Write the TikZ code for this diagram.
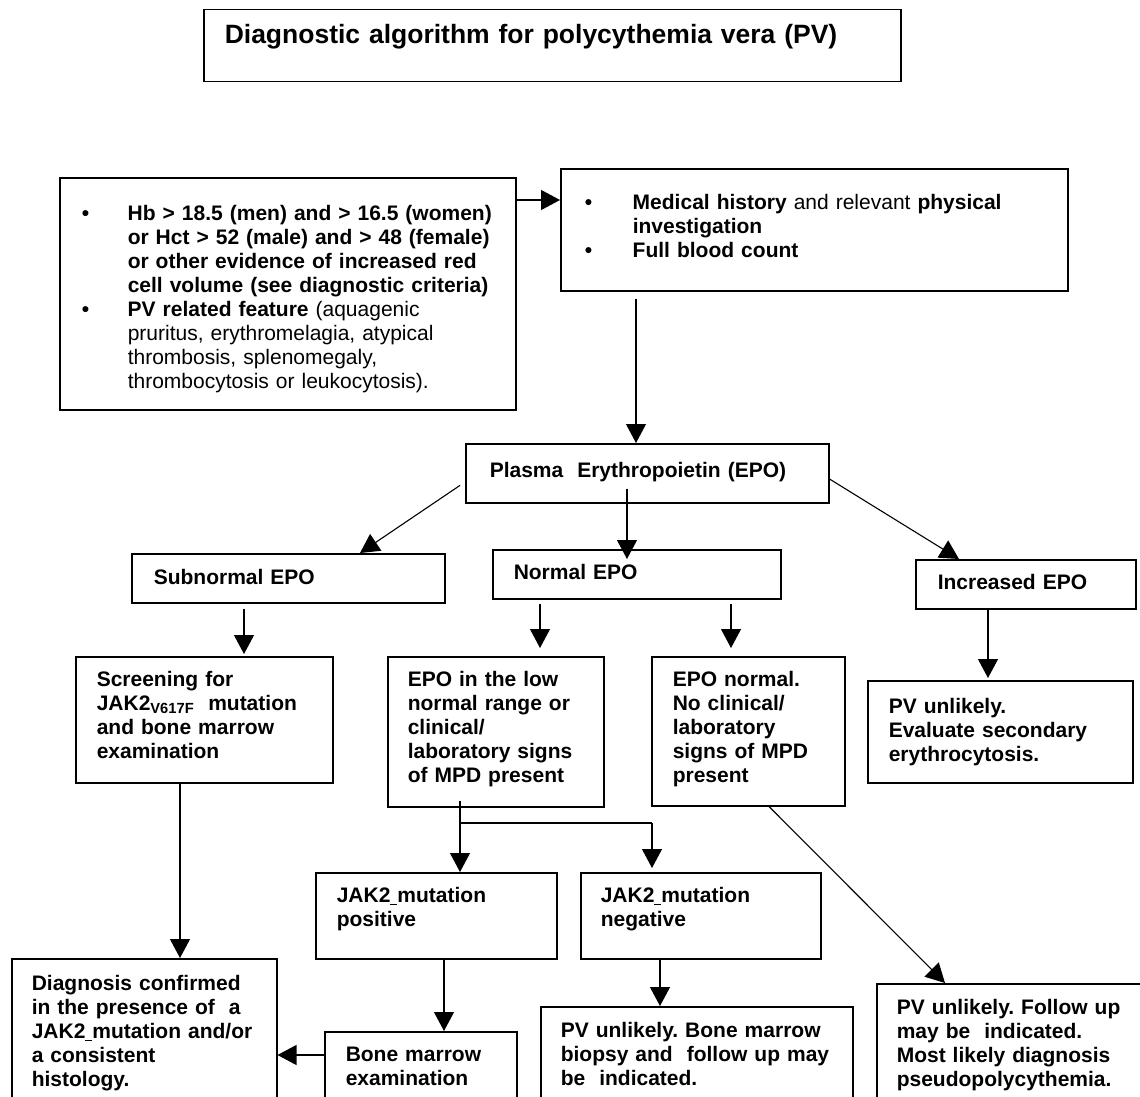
\documentclass[tikz,border=0pt]{standalone}
\usepackage{fontspec}
\setmainfont{Liberation Sans}
\frenchspacing
\usetikzlibrary{arrows.meta}
\tikzset{
  box/.style={draw, line width=1.5pt, anchor=north west, align=left, inner xsep=21pt, inner ysep=0pt,
              font=\fontsize{21}{24}\selectfont\bfseries},
  arr/.style={line width=1.1pt, -{Triangle[width=20pt,length=19pt]}},
  link/.style={line width=1.1pt}
}
\begin{document}
\begin{tikzpicture}[x=1pt, y=-1pt]
    \useasboundingbox (0,0) rectangle (1140,1097);
    \clip (0,0) rectangle (1140,1097);
    \node[box, text width=655pt, text height=34pt, text depth=38pt, font=\fontsize{26.5}{30}\selectfont\bfseries] (title) at (203,9)
        {Diagnostic algorithm for polycythemia vera (PV)};
    \node[box, inner xsep=22pt, text width=412pt, text height=43pt, text depth=189pt] (crit) at (59,177)
        {\makebox[46pt][l]{\textbullet}Hb > 18.5 (men) and > 16.5 (women)\\
         \hspace*{46pt}or Hct > 52 (male) and > 48 (female)\\
         \hspace*{46pt}or other evidence of increased red\\
         \hspace*{46pt}cell volume (see diagnostic criteria)\\
         \makebox[46pt][l]{\textbullet}PV related feature {\mdseries (aquagenic}\\
         \hspace*{46pt}{\mdseries pruritus, erythromelagia, atypical}\\
         \hspace*{46pt}{\mdseries thrombosis, splenomegaly,}\\
         \hspace*{46pt}{\mdseries thrombocytosis or leukocytosis).}};
    \node[box, inner xsep=24pt, text width=459pt, text height=41pt, text depth=81pt] (hist) at (560,168)
        {\makebox[48pt][l]{\textbullet}Medical history {\mdseries and relevant} physical\\
         \hspace*{48pt}investigation\\
         \makebox[48pt][l]{\textbullet}Full blood count};
    \node[box, inner xsep=24pt, text width=315pt, text height=34pt, text depth=25pt] (epo) at (465,443)
        {Plasma\ \ Erythropoietin (EPO)};
    % second row
    \node[box, inner xsep=22pt, text width=269pt, text height=31pt, text depth=18pt] (sub) at (131,553) {Subnormal EPO};
    \node[box, text width=246pt, text height=30pt, text depth=19pt] (norm) at (492,549) {Normal EPO};
    \node[box, inner xsep=22pt, text width=176pt, text height=30pt, text depth=19pt] (inc) at (915,559) {Increased EPO};
    \node[box, text width=215pt, text height=30pt, text depth=96pt] (screen) at (75,656)
        {Screening for\\ JAK2\textsubscript{V617F}\ \ mutation\\ and bone marrow\\ examination};
    \node[box, inner xsep=20pt, text width=176pt, text height=30pt, text depth=120pt] (low) at (387,656)
        {EPO in the low\\ normal range or\\ clinical/\\ laboratory signs\\ of MPD present};
    \node[box, text width=151pt, text height=30pt, text depth=119pt] (nrm) at (651,656)
        {EPO normal.\\ No clinical/\\ laboratory\\ signs of MPD\\ present};
    \node[box, text width=223pt, text height=33pt, text depth=69pt] (pvsec) at (867,680)
        {PV unlikely.\\ Evaluate secondary\\ erythrocytosis.};
    \node[box, text width=199pt, text height=30pt, text depth=56pt] (jpos) at (315,872)
        {JAK2\underline{\ }mutation\\ positive};
    \node[box, inner xsep=20pt, text width=200pt, text height=30pt, text depth=56pt] (jneg) at (580,872)
        {JAK2\underline{\ }mutation\\ negative};
    % bottom row, cut by the page edge
    \node[box, inner xsep=20pt, text width=225pt, text height=32pt, text depth=128pt] (diag) at (11,958)
        {Diagnosis confirmed\\ in the presence of\ \ a\\ JAK2\underline{\ }mutation and/or\\ a consistent\\ histology.};
    \node[box, text width=150pt, text height=30pt, text depth=60pt] (bm) at (324,1031)
        {Bone marrow\\ examination};
    \node[box, inner xsep=20pt, text width=272pt, text height=31pt, text depth=80pt] (pvbm) at (540,1006)
        {PV unlikely. Bone marrow\\ biopsy and\ \ follow up may\\ be\ \ indicated.};
    \node[box, inner xsep=20pt, text width=240pt, text height=31pt, text depth=100pt] (fol) at (876,983)
        {PV unlikely. Follow up\\ may be\ \ indicated.\\ Most likely diagnosis\\ pseudopolycythemia.};
    \coordinate (fork) at (460,823);
    \draw[arr] (crit.east |- 0,200) -- (hist.west |- 0,200);
    \draw[arr, shorten <=7pt] (hist.south -| 636,0) -- (epo.north -| 636,0);
    \draw[arr, shorten <=6pt] (epo.west |- 0,482) -- (sub.north -| 360,0);
    \draw[arr, shorten <=-15pt, shorten >=-10pt] (epo.south -| 627,0) -- (norm.north -| 627,0);
    \draw[arr] (epo.east |- 0,479) -- (inc.north -| 959,0);
    \draw[arr, shorten <=5pt, shorten >=2pt] (sub.south -| 244,0) -- (screen.north -| 244,0);
    \draw[arr, shorten <=4pt, shorten >=8pt] (norm.south -| 540,0) -- (low.north -| 540,0);
    \draw[arr, shorten <=4pt, shorten >=8pt] (norm.south -| 731,0) -- (nrm.north -| 731,0);
    \draw[arr, shorten >=2pt] (inc.south -| 988,0) -- (pvsec.north -| 988,0);
    \draw[link, shorten <=-7pt] (low.south -| fork) -- (fork) -- (fork -| 652,0); % split below low range box
    \draw[arr] (fork) -- (jpos.north -| fork);
    \draw[arr, shorten >=4pt] (fork -| 652,0) -- (jneg.north -| 652,0);
    \draw[arr] (screen.south -| 180,0) -- (diag.north -| 180,0);
    \draw[arr] (nrm.south -| 769,0) -- (fol.north -| 945,0);
    \draw[arr] (jpos.south -| 444,0) -- (bm.north -| 444,0);
    \draw[arr] (jneg.south -| 660,0) -- (pvbm.north -| 660,0);
    \draw[arr] (bm.west |- 0,1055) -- (diag.east |- 0,1055);
\end{tikzpicture}
\end{document}
